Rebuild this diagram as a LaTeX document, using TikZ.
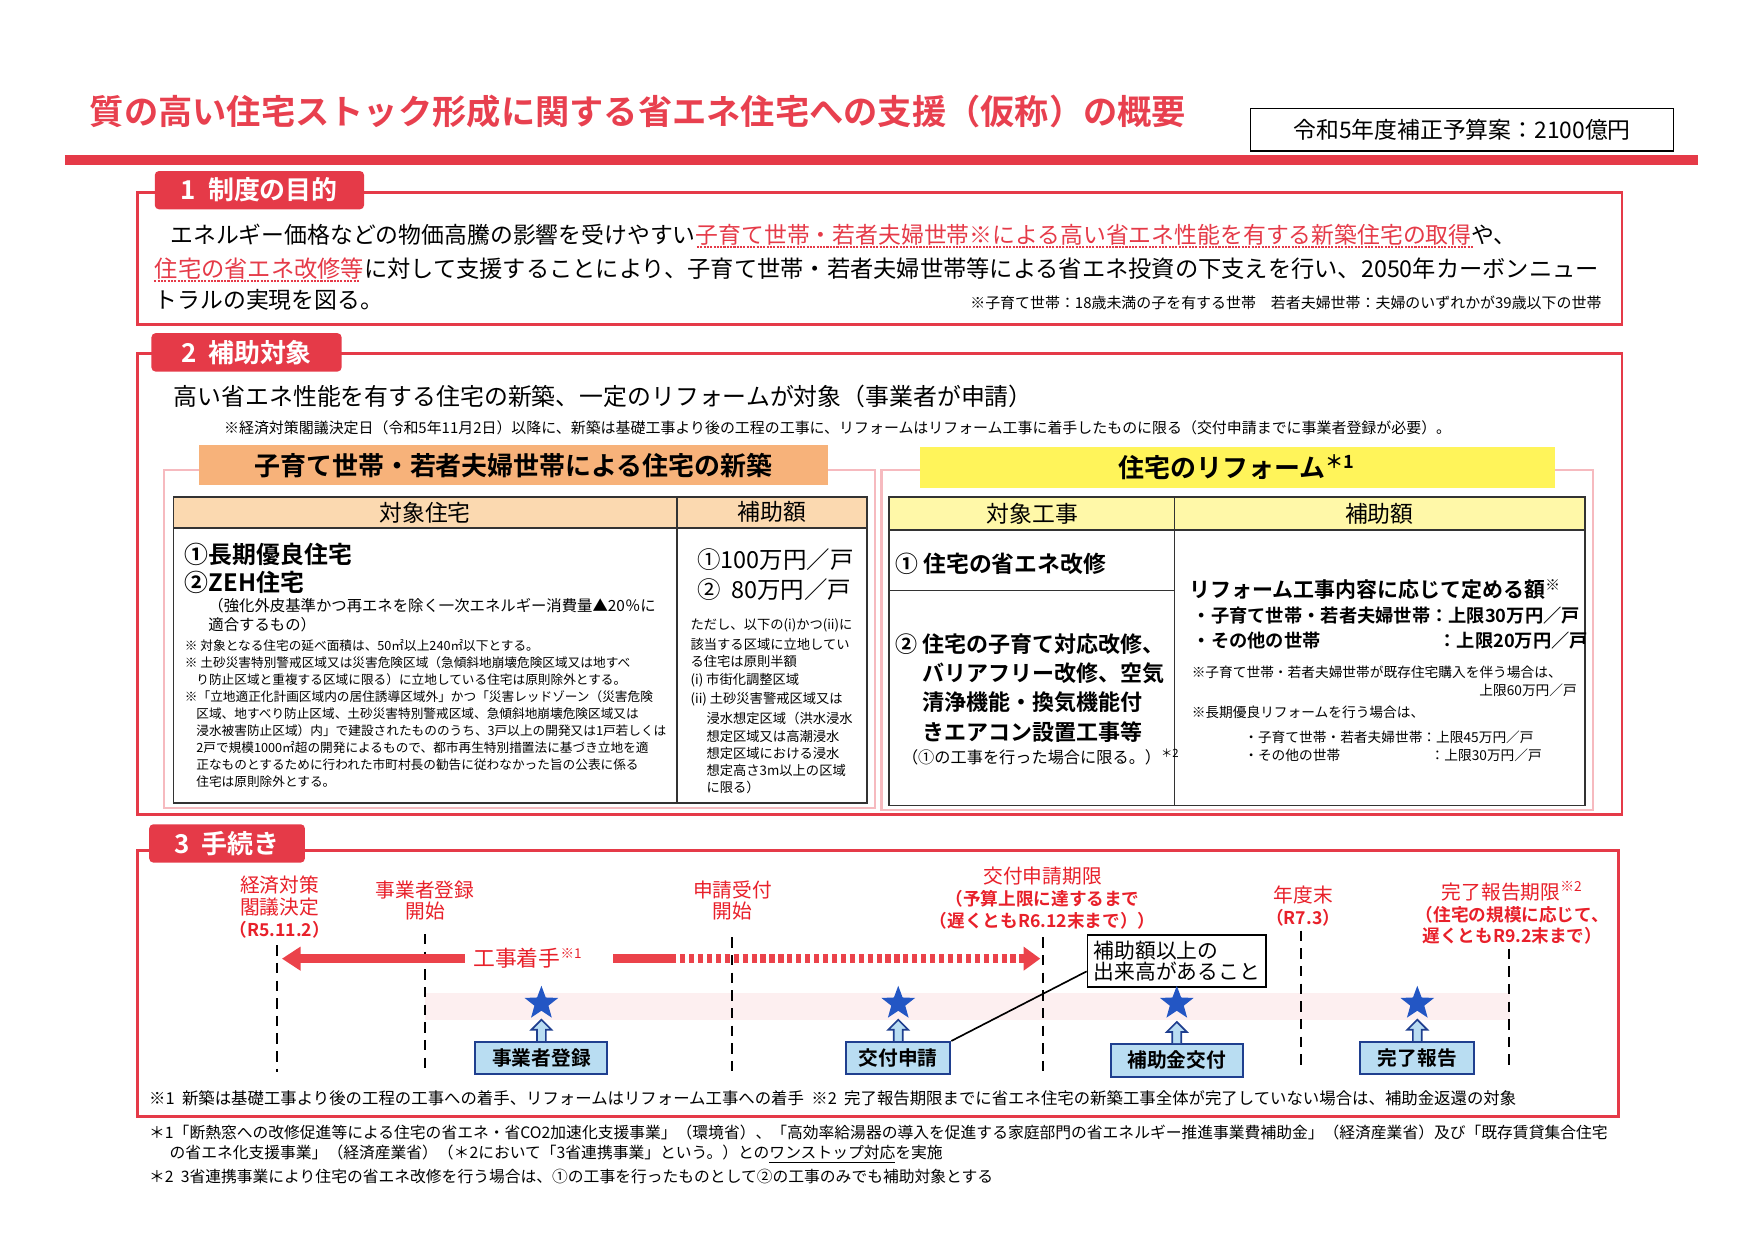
\documentclass[tikz,border=0pt]{standalone}
\usepackage{fontspec}
\setmainfont{Noto Sans CJK JP}[BoldFont={Noto Sans CJK JP Bold}]
\usetikzlibrary{positioning}
\usetikzlibrary{arrows.meta}
\usetikzlibrary{shapes.geometric}
\definecolor{titlered}{HTML}{E8404F}
\definecolor{frame}{HTML}{E53A48}
\definecolor{labred}{HTML}{E8202A}
\definecolor{bannerorange}{HTML}{F7B27A}
\definecolor{headorange}{HTML}{FBD9B0}
\definecolor{banneryellow}{HTML}{FFF45A}
\definecolor{headyellow}{HTML}{FFF8A8}
\definecolor{boxfill}{HTML}{B9DDF2}
\definecolor{boxblue}{HTML}{1F3F8F}
\definecolor{starblue}{HTML}{2356C4}
\newcommand{\fs}[1]{\fontsize{#1}{#1}\selectfont}
\tikzset{
  txt/.style={anchor=west, inner sep=0pt, font=\fs{11}},
  tab/.style={fill=frame, rounded corners=2pt, text=white, anchor=west,
    font=\bfseries\fs{12.5}, minimum height=16pt, inner xsep=6pt},
  secframe/.style={draw=frame, line width=1.3pt},
  softframe/.style={draw=frame!35, line width=1pt},
  tblframe/.style={draw=black!80, line width=0.8pt},
  stepbox/.style={draw=boxblue, fill=boxfill, line width=1pt, minimum width=63.6pt,
    minimum height=14.6pt, font=\bfseries\fs{9.5}},
  timelab/.style={text=labred, align=center, inner sep=0pt, font=\fs{9.5}},
  guide/.style={dashed, line width=0.9pt, dash pattern=on 5pt off 3.5pt},
  bluestar/.style={star, star points=5, star point ratio=2.4, fill=starblue,
    minimum size=17pt, inner sep=0pt},
  redul/.style={draw=frame, line width=0.7pt, dash pattern=on 1pt off 0.6pt},
}
\begin{document}
\begin{tikzpicture}[x=0.018941cm, y=-0.018941cm]
\useasboundingbox (0,0) rectangle (1568,1108);
% title
\node[txt, text=titlered, font=\bfseries\fs{16.5}] (title) at (80,100) {質の高い住宅ストック形成に関する省エネ住宅への支援（仮称）の概要};
\node[draw=black, line width=0.8pt, minimum width=203.7pt, minimum height=20.5pt, font=\fs{11}] (budget) at (1307,116) {令和5年度補正予算案：2100億円};
\draw[frame, line width=5] (58,143) -- (1518,143);
% section 1
\draw[secframe] (123,172) rectangle (1450,290);
\node[tab, minimum width=100.8pt] (tab1) at (138,170) {1\ \ 制度の目的};
\node[txt] (s1a) at (152,210) {エネルギー価格などの物価高騰の影響を受けやすい\textcolor{frame}{子育て世帯・若者夫婦世帯※による高い省エネ性能を有する新築住宅の取得}や、};
\node[txt, font=\fs{11.2}] (s1b) at (138,240) {\textcolor{frame}{住宅の省エネ改修等}に対して支援することにより、子育て世帯・若者夫婦世帯等による省エネ投資の下支えを行い、2050年カーボンニュー};
\node[txt] (s1c) at (138,268) {トラルの実現を図る。};
\draw[redul] (623,221) -- (1317,221);
\draw[redul] (138,251) -- (322,251);
\node[txt, anchor=east, font=\fs{7.2}] (s1n) at (1432,271) {※子育て世帯：18歳未満の子を有する世帯\quad 若者夫婦世帯：夫婦のいずれかが39歳以下の世帯};
% section 2
\draw[secframe] (123,316) rectangle (1450,728);
\node[tab, minimum width=91.6pt] (tab2) at (135,315) {2\ \ 補助対象};
\node[txt, font=\fs{11.5}] (s2a) at (155,354) {高い省エネ性能を有する住宅の新築、一定のリフォームが対象（事業者が申請）};
\node[txt, font=\fs{7.2}] (s2n) at (200,382) {※経済対策閣議決定日（令和5年11月2日）以降に、新築は基礎工事より後の工程の工事に、リフォームはリフォーム工事に着手したものに限る（交付申請までに事業者登録が必要）。};
\draw[softframe] (147,420) rectangle (782,722);
\draw[softframe] (788,420) rectangle (1424,724);
\node[fill=bannerorange, minimum width=302.9pt, minimum height=19.4pt, font=\bfseries\fs{12.5}] (newban) at (459,416) {子育て世帯・若者夫婦世帯による住宅の新築};
\node[fill=banneryellow, minimum width=306pt, minimum height=19.4pt, font=\bfseries\fs{12.5}] (refban) at (1106,418) {住宅のリフォーム\textsuperscript{＊1}};
% left table
\fill[headorange] (155,444) rectangle (775,472);
\draw[tblframe] (155,444) rectangle (775,718);
\draw[tblframe] (155,472) -- (775,472);
\draw[tblframe] (605,444) -- (605,718);
\node[font=\fs{11}] (lh1) at (380,458) {対象住宅};
\node[font=\fs{11}] (lh2) at (690,458) {補助額};
\node[txt, font=\bfseries\fs{11.5}] (lt1) at (165,496) {①長期優良住宅};
\node[txt, font=\bfseries\fs{11.5}] (lt2) at (165,521) {②ZEH住宅};
\node[txt, font=\fs{7.4}, align=left] (lt3) at (186,550) {（強化外皮基準かつ再エネを除く一次エネルギー消費量▲20％に\\[2pt]適合するもの）};
\node[txt, anchor=north west, font=\fs{6.1}, align=left] (lt4) at (165,571) {%
※\ 対象となる住宅の延べ面積は、50㎡以上240㎡以下とする。\\[2.1pt]
※\ 土砂災害特別警戒区域又は災害危険区域（急傾斜地崩壊危険区域又は地すべ\\[2.1pt]
\hspace*{0.9em}り防止区域と重複する区域に限る）に立地している住宅は原則除外とする。\\[2.1pt]
※「立地適正化計画区域内の居住誘導区域外」かつ「災害レッドゾーン（災害危険\\[2.1pt]
\hspace*{0.9em}区域、地すべり防止区域、土砂災害特別警戒区域、急傾斜地崩壊危険区域又は\\[2.1pt]
\hspace*{0.9em}浸水被害防止区域）内」で建設されたもののうち、3戸以上の開発又は1戸若しくは\\[2.1pt]
\hspace*{0.9em}2戸で規模1000㎡超の開発によるもので、都市再生特別措置法に基づき立地を適\\[2.1pt]
\hspace*{0.9em}正なものとするために行われた市町村長の勧告に従わなかった旨の公表に係る\\[2.1pt]
\hspace*{0.9em}住宅は原則除外とする。};
\node[txt, font=\fs{11.3}] (la1) at (623,500) {①100万円／戸};
\node[txt, font=\fs{11.3}] (la2) at (623,527) {②\ \ 80万円／戸};
\node[txt, anchor=north west, font=\fs{6.4}, align=left] (la3) at (617,553) {%
ただし、以下の(i)かつ(ii)に\\[1.9pt]
該当する区域に立地してい\\[1.9pt]
る住宅は原則半額\\[1.9pt]
(i)\ 市街化調整区域\\[1.9pt]
(ii)\ 土砂災害警戒区域又は\\[1.9pt]
\hspace*{1.2em}浸水想定区域（洪水浸水\\[1.9pt]
\hspace*{1.2em}想定区域又は高潮浸水\\[1.9pt]
\hspace*{1.2em}想定区域における浸水\\[1.9pt]
\hspace*{1.2em}想定高さ3m以上の区域\\[1.9pt]
\hspace*{1.2em}に限る）};
% right table
\fill[headyellow] (795,444) rectangle (1417,474);
\draw[tblframe] (795,444) rectangle (1417,720);
\draw[tblframe] (795,474) -- (1417,474);
\draw[tblframe] (1050,444) -- (1050,720);
\draw[tblframe] (795,528) -- (1050,528);
\node[font=\fs{11}] (rh1) at (923,459) {対象工事};
\node[font=\fs{11}] (rh2) at (1233,459) {補助額};
\node[txt, font=\bfseries\fs{11}] (rt1) at (800,504) {①\ 住宅の省エネ改修};
\node[txt, anchor=north west, font=\bfseries\fs{10.6}, align=left] (rt2) at (800,566) {%
②\ 住宅の子育て対応改修、\\[3.5pt]
\hspace*{1.25em}バリアフリー改修、空気\\[3.5pt]
\hspace*{1.25em}清浄機能・換気機能付\\[3.5pt]
\hspace*{1.25em}きエアコン設置工事等};
\node[txt, font=\fs{7.8}] (rt3) at (806,677) {（①の工事を行った場合に限る。）\textsuperscript{＊2}};
\node[txt, font=\bfseries\fs{10.1}] (ra1) at (1063,527) {リフォーム工事内容に応じて定める額\textsuperscript{※}};
\node[txt, font=\bfseries\fs{8.8}] (ra2) at (1066,550) {・子育て世帯・若者夫婦世帯：上限30万円／戸};
\node[txt, font=\bfseries\fs{8.8}] (ra3) at (1066,573) {・その他の世帯\hspace{6.45em}：上限20万円／戸};
\node[txt, font=\fs{6.6}] (ra4) at (1065,601) {※子育て世帯・若者夫婦世帯が既存住宅購入を伴う場合は、};
\node[txt, anchor=east, font=\fs{6.6}] (ra5) at (1410,617) {上限60万円／戸};
\node[txt, font=\fs{6.6}] (ra6) at (1065,637) {※長期優良リフォームを行う場合は、};
\node[txt, font=\fs{6.6}] (ra7) at (1112,659) {・子育て世帯・若者夫婦世帯：上限45万円／戸};
\node[txt, font=\fs{6.6}] (ra8) at (1112,675) {・その他の世帯\hspace{6.6em}：上限30万円／戸};
% section 3
\draw[secframe] (123,760) rectangle (1447,998);
\node[tab, minimum width=75pt] (tab3) at (133,754) {3\ \ 手続き};
\fill[frame!8] (380,888) rectangle (1350,912);
\foreach \x/\yt in {248/845,380/835,654/838,932/838,1163/832,1349/848}
  \draw[guide] (\x,\yt) -- (\x,958);
\node[timelab] (tl1) at (250,811) {経済対策\\[1pt]閣議決定\\[1pt]{\bfseries\fs{8.5}（R5.11.2）}};
\node[timelab] (tl2) at (380,805) {事業者登録\\[1pt]開始};
\node[timelab] (tl3) at (655,805) {申請受付\\[1pt]開始};
\node[timelab] (tl4) at (932,803) {交付申請期限\\[1pt]{\bfseries\fs{8.5}（予算上限に達するまで}\\[1pt]{\bfseries\fs{8.5}（遅くともR6.12末まで））}};
\node[timelab] (tl5) at (1165,810) {年度末\\[1pt]{\bfseries\fs{8.5}（R7.3）}};
\node[timelab] (tl6) at (1352,816) {完了報告期限\textsuperscript{※2}\\[1pt]{\bfseries\fs{8.5}（住宅の規模に応じて、}\\[1pt]{\bfseries\fs{8.5}遅くともR9.2末まで）}};
\node[timelab, font=\fs{10.5}] (kj) at (472,857) {工事着手\textsuperscript{\fs{6.5}※1}};
\coordinate (d1) at (252,857);
\coordinate (s1) at (548,857);
\coordinate (s2) at (600,857);
\coordinate (d4) at (930,857);
\draw[labred!85, line width=4.5, -{Triangle[length=9pt,width=11pt]}] ([xshift=-4pt]kj.west) -- (d1);
\draw[labred!85, line width=4.5] (s1) -- (s2);
\draw[labred!85, line width=4.5, dash pattern=on 2.5pt off 1.8pt, -{Triangle[length=8pt,width=11pt]}] (s2) -- (d4);
\node[draw=black, fill=white, line width=0.9pt, align=left, font=\fs{10}, inner sep=3pt] (note) at (1052,859) {補助額以上の\\[0pt]出来高があること};
\node[stepbox] (reg) at (484,946) {事業者登録};
\node[stepbox, minimum width=50.1pt] (apply) at (803,946) {交付申請};
\node[stepbox] (grant) at (1052,948) {補助金交付};
\node[stepbox, minimum width=55pt] (done) at (1267,946) {完了報告};
\draw[line width=0.8pt] ([yshift=8pt]note.south west) -- (apply.north east);
\foreach \n/\x in {reg/484,apply/803,grant/1052,done/1267}{
  \node[bluestar] (star\n) at (\x,897) {};
  \draw[boxblue, fill=boxfill, line width=0.8pt] (\n.north) ++(-4,0) -- ++(0,-10) -- ++(-5,0) -- ++(9,-9) -- ++(9,9) -- ++(-5,0) -- ++(0,10);
}
\node[txt, font=\fs{7.9}] (s3n) at (133,982) {※1\ \ 新築は基礎工事より後の工程の工事への着手、リフォームはリフォーム工事への着手\ \ ※2\ \ 完了報告期限までに省エネ住宅の新築工事全体が完了していない場合は、補助金返還の対象};
% footnotes
\node[txt, anchor=north west, font=\fs{7.6}, align=left] (fn1) at (133,1005) {＊1「断熱窓への改修促進等による住宅の省エネ・省CO2加速化支援事業」（環境省）、「高効率給湯器の導入を促進する家庭部門の省エネルギー推進事業費補助金」（経済産業省）及び「既存賃貸集合住宅\\[2pt]
\hspace*{1.3em}の省エネ化支援事業」（経済産業省）（＊2において「3省連携事業」という。）との\underline{ワンストップ対応}を実施};
\node[txt, font=\fs{7.6}] (fn2) at (133,1052) {＊2\ \ 3省連携事業により住宅の省エネ改修を行う場合は、①の工事を行ったものとして②の工事のみでも補助対象とする};
\end{tikzpicture}
\end{document}
